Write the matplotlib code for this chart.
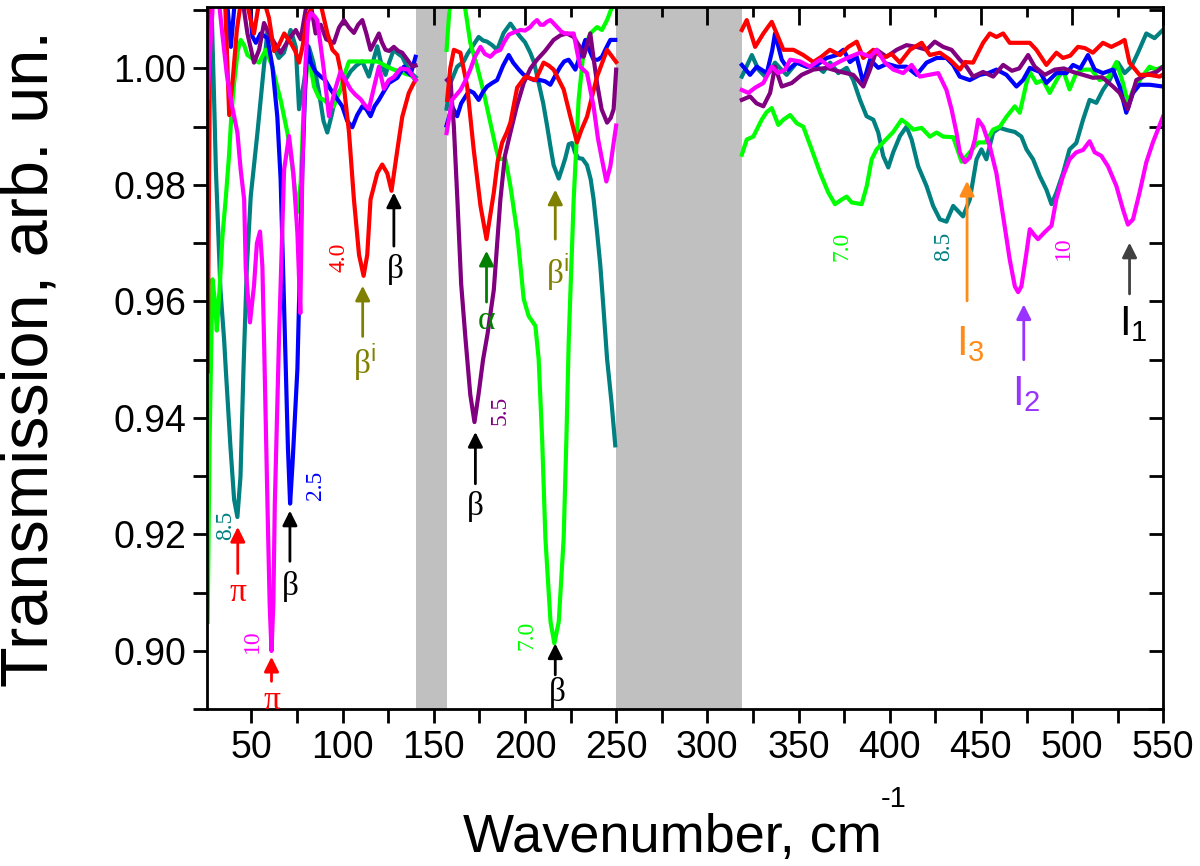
import numpy as np
import matplotlib.pyplot as plt
from matplotlib.ticker import MultipleLocator, FormatStrFormatter

plt.rcParams['mathtext.fontset'] = 'custom'
plt.rcParams['mathtext.rm'] = 'Liberation Sans'
plt.rcParams['mathtext.it'] = 'Liberation Sans:italic'
plt.rcParams['font.family'] = ['Liberation Sans', 'DejaVu Sans']

nan = np.nan

# 4.0 (red)
red_x = [26, 27.5, nan,
         35.5, 37.8, 40, 42, 44, 47, 49.6, 51.4, 54, 56.5, 59.6, 62.4, 65, 68, 71.5, 74, 76.1, 78, 80.7, 84, 88,
         91.6, 94.4, 97.1, 100.7, 103.5, 106.2, 109, 111.5, 113.5, 115.3, 119, 121.7, 124.5, 126.8, 130, 132.7,
         136.3, 139, 140, nan,
         157.3, 159, 161, 164.6, 168.3, 171.9, 175.6, 178.9, 182.9, 185, 187.5, 190, 192, 195.7, 200.2, 205.7,
         208, 210.2, 213, 215.7, 221.2, 224.9, 228.5, 231, 234, 239.5, 245, 250, nan,
         318.9, 321.6, 326.2, 330.7, 335.3, 338, 341.7, 347.2, 352.6, 358.1, 362.5, 367.2, 372.7, 377.3, 381.9,
         385.5, 391, 396.4, 401, 405.6, 411.1, 417.5, 422, 427.5, 433, 438.5, 441.2, 445.7, 451.2, 454.9, 458.5,
         462.2, 465.8, 471.3, 476.8, 480.4, 485.9, 491.4, 495, 499, 503.2, 507, 511.4, 516.9, 521.5, 526.1,
         528.8, 531.5, 537, 542.5, 548, 550]
red_y = [0.948, 1.012, nan,
         1.012, 0.992, 0.999, 1.0066, 1.011, 1.012, 1.0083, 1.006, 1.011, 1.012, 1.0087, 1.003, 1.004, 1.006,
         1.0044, 1.003, 1.001, 1.0037, 1.009, 1.011, 1.011,
         1.0061, 1.0032, 1.0023, 0.9969, 0.989, 0.9775, 0.968, 0.9644, 0.968, 0.9775, 0.982, 0.9835, 0.982,
         0.979, 0.986, 0.9917, 0.9958, 0.9975, 0.998, nan,
         0.9946, 1.000, 1.0032, 1.0027, 0.9969, 0.986, 0.9764, 0.9707, 0.9787, 0.984, 0.9873, 0.989, 0.9907,
         0.9967, 0.9986, 0.998, 0.9995, 1.001, 1.0005, 0.9998, 0.9964, 0.9917, 0.9873, 0.9895, 0.9917, 0.9986,
         1.0032, 1.0011, nan,
         1.0066, 1.0083, 1.0037, 1.006, 1.008, 1.006, 1.0032, 1.0032, 1.0023, 1.0011, 1.002, 1.0032, 1.0023,
         1.0037, 1.0046, 1.0018, 1.0032, 1.0018, 1.0025, 1.001, 1.0032, 1.0044, 1.0023, 1.0027, 1.0015, 0.9998,
         1.0011, 1.001, 1.0044, 1.006, 1.0054, 1.006, 1.0044, 1.0044, 1.0044, 1.0032, 1.0006, 1.0027, 1.0018,
         1.0022, 1.0037, 1.0035, 1.0027, 1.0044, 1.0037, 1.0044, 1.0049, 1.001, 0.9989, 0.9989, 0.9986, 0.999]

# 2.5 (blue)
blue_x = [36.5, 38.7, 41, 45, 49, 50.5, 52.4, 55, 58.8, 61.5, 64.2, 66, 68.8, 70, 71.2, 72.5, 75.2, 77.9, 79.5,
          80.7, 82.5, 85, 88, 90.5, 93.4, 96.5, 99.8, 102.5, 105.3, 108, 110.8, 113, 115.3, 117.5, 119.9, 122.5,
          125.4, 128, 130, 133.6, 135, 137.2, 140, nan,
          157, 160, 162.8, 165, 167.4, 169.5, 171.9, 174.6, 177, 179.2, 182, 184.7, 188, 191.1, 193.5, 196.6,
          199, 202, 205, 208.4, 211, 213.9, 217, 219.4, 221.5, 223.9, 225.5, 227.6, 230, 233.1, 235.5, 237.6,
          240, 242.2, 244.5, 246.8, 249.5, nan,
          318.9, 323.4, 327.1, 332.6, 335.5, 337.1, 340.8, 344.4, 349, 354.5, 360, 365.5, 370.9, 374.6, 378.2,
          381.9, 385.5, 389.2, 393.7, 398.5, 404, 409.2, 414.7, 420.2, 425.7, 431.1, 434.8, 438.4, 443.9, 449.4,
          454, 458.5, 464, 469.5, 473.1, 476.8, 482.3, 485.9, 491.4, 496.9, 500.5, 504.5, 508.7, 512.4, 516.9,
          522.4, 526.1, 529.7, 533.4, 537, 542.5, 549.8]
blue_y = [1.012, 1.0037, 1.012, 1.013, 1.011, 1.0055, 1.0044, 1.006, 1.0052, 1.0003, 0.9917, 0.981, 0.9484,
          0.935, 0.9253, 0.932, 0.9484, 0.9826, 0.997, 1.004, 1.001, 0.9995, 0.9986, 0.998, 0.9964, 0.995,
          0.9935, 0.991, 0.9899, 0.992, 0.9935, 0.993, 0.9918, 0.9935, 0.9946, 0.996, 0.9975, 0.998, 0.9984,
          1.0003, 0.9995, 0.9989, 1.002, nan,
          0.9902, 0.9935, 0.9918, 0.994, 0.9952, 0.9962, 0.9958, 0.9946, 0.996, 0.9969, 0.9975, 0.998, 1.0005,
          1.0023, 1.001, 0.9998, 0.999, 0.9984, 0.998, 0.998, 0.9978, 0.9972, 0.999, 1.0003, 1.0012, 1.0015,
          1.0008, 0.9998, 1.002, 1.0049, 1.003, 1.0015, 1.0015, 1.002, 1.0035, 1.0049, 1.0049, nan,
          1.0006, 0.9989, 1.0003, 0.9992, 1.003, 1.006, 1.0015, 0.9998, 1.001, 1.0003, 1.0006, 1.0018, 1.0023,
          1.0032, 1.0011, 1.002, 0.9975, 1.0015, 1.0001, 1.0008, 1.0003, 1.0003, 0.9989, 1.001, 1.0018, 1.0018,
          1.0006, 0.9986, 0.998, 0.9989, 0.9992, 0.9998, 0.9989, 0.9969, 0.998, 1.0001, 0.9994, 0.9975, 0.9992,
          0.9992, 1.0006, 1.0, 1.0023, 0.9998, 0.9992, 0.9998, 0.9969, 0.9924, 0.9958, 0.9972, 0.9972, 0.9969]

# 5.5 (purple)
purple_x = [26, 27.5, nan,
            45, 47.8, 51.4, 54.2, 56.9, 60.6, 66, 70.6, 74.3, 77, 79.7, 82, 85.2, 88, 91, 95.2, 98, 100.7, 103.5,
            106.2, 108.5, 110.8, 113, 115.3, 117.5, 119.9, 121.5, 123.5, 125.5, 128.1, 130.5, 132.7, 135.5, 138.2,
            140, nan,
            157.3, 159, 161, 163, 165, 167.4, 170, 172.3, 174.5, 177, 179.5, 182.9, 186.5, 189, 192, 195.5, 199.3,
            203, 206.6, 211, 215.7, 219.5, 223, 226.7, 229.5, 232.2, 234, 235.8, 237.5, 239.5, 242, 245, 247,
            248.6, 250, nan,
            318.9, 323.4, 327, 330.7, 334.4, 337.1, 340.8, 346.3, 351.7, 358.1, 365.4, 372, 380, 385.5, 389.2,
            392.8, 398.3, 403.8, 409.2, 414.7, 420.2, 424.7, 429.3, 433.9, 438.4, 442.1, 445.7, 451.2, 456.7,
            462.2, 467, 471, 475.9, 479.5, 485, 490.5, 495.5, 500.5, 506, 511.4, 516.5, 522.4, 526.1, 530.6,
            535.2, 540.7, 546.2, 549.8]
purple_y = [0.995, 1.012, nan,
            1.012, 1.006, 1.001, 1.0032, 1.0078, 1.0054, 1.0027, 1.005, 1.0066, 1.005, 1.010, 1.012, 1.006,
            1.0075, 1.005, 1.0044, 1.007, 1.0083, 1.007, 1.0061, 1.0075, 1.0083, 1.006, 1.0032, 1.0045, 1.006,
            1.0045, 1.0032, 1.003, 1.0037, 1.003, 1.0027, 1.0015, 1.0003, 1.0005, nan,
            0.998, 0.9985, 0.990, 0.977, 0.963, 0.9535, 0.944, 0.9393, 0.944, 0.950, 0.9545, 0.962, 0.9775, 0.985,
            0.989, 0.9935, 0.9975, 1.000, 1.0015, 1.003, 1.0049, 1.0057, 1.006, 1.0054, 1.004, 1.002, 1.004,
            1.006, 1.002, 0.9975, 0.993, 0.9907, 0.9915, 0.993, 0.9998, nan,
            0.9946, 0.9952, 0.994, 0.9935, 0.9958, 1.0003, 0.9969, 0.9975, 0.9989, 0.9998, 1.0001, 0.9995, 0.9989,
            0.9969, 0.9998, 1.0032, 1.002, 1.0032, 1.004, 1.0037, 1.0032, 1.0046, 1.0037, 1.0032, 1.0015, 1.0003,
            0.9986, 0.9994, 0.9986, 1.0006, 0.9996, 1.0, 1.0023, 1.0003, 0.9989, 0.9998, 1.0, 0.9994, 0.9989,
            0.9984, 0.9985, 0.9969, 0.9958, 0.993, 0.998, 0.9989, 0.9994, 1.0003]

# 7.0 (green)
green_x = [26, 27, 28.6, 30, 31, 32.5, 34.1, 36, 37.7, 39, 40.5, 42.5, 44.1, 46, 47.8, 51.4, 54.2, 57.8, 61.5,
           64, 66, 69.7, 72.5, 75.2, 77, 78.8, 80.5, 82.5, 84.3, 87, 89.8, 92.5, 95.2, 97, 98.9, 101, 103.5, 108,
           113.5, 119, 124.5, 128, 131.8, 135, 137.2, 140, nan,
           157, 159, 163, 166.4, 170, 173.8, 177.4, 181, 183.8, 185.6, 187.5, 189.3, 192, 195.7, 199.3, 202,
           205.7, 207.5, 209.4, 211.2, 214, 216.1, 218.5, 221.2, 222.7, 224, 226.7, 229.4, 232.2, 235.8, 239.5,
           242.2, 245, 247.7, 249.5, nan,
           318.9, 321.6, 325.2, 329.8, 332.5, 335.3, 338.9, 341.7, 345.4, 349, 352.6, 357.2, 361.8, 366.3, 370,
           373.7, 376.4, 379.1, 384.6, 387.4, 390.1, 392.8, 396.4, 401.9, 406.5, 409.5, 412.9, 417.5, 422, 425.7,
           429.3, 434.8, 439.4, 443.9, 448.5, 452.5, 456.7, 460.4, 464, 468.6, 471.3, 475, 476.8, 480.4, 484,
           487.7, 491.5, 495, 498.6, 502.3, 506, 510.5, 515.1, 520, 524.3, 527.9, 530.6, 533.4, 538, 542.5, 546,
           549.8]
green_y = [0.905, 0.935, 0.9638, 0.960, 0.955, 0.962, 0.9712, 0.978, 0.985, 0.992, 0.9975, 1.003, 1.0049, 1.004,
           1.0023, 1.0015, 1.001, 1.0032, 1.0003, 0.997, 0.9946, 0.989, 0.983, 0.9753, 0.9804, 0.9946, 1.000,
           1.0003, 0.9969, 0.995, 0.9946, 0.9938, 0.9935, 0.995, 0.9964, 0.999, 1.0012, 1.0012, 1.0012, 1.0012,
           1.0003, 0.9998, 0.9995, 0.999, 0.9989, 0.998, nan,
           1.0032, 1.012, 1.013, 1.012, 1.0044, 1.0003, 0.9958, 0.9907, 0.9867, 0.9844, 0.9845, 0.9844, 0.9798,
           0.9719, 0.9604, 0.9575, 0.9558, 0.9501, 0.9364, 0.9193, 0.905, 0.9013, 0.905, 0.9193, 0.9364, 0.9535,
           0.9775, 0.9946, 1.0032, 1.006, 1.0071, 1.0066, 1.0083, 1.0105, 1.012, nan,
           0.9852, 0.9878, 0.9883, 0.9912, 0.9925, 0.9932, 0.9903, 0.9912, 0.992, 0.9906, 0.99, 0.9861, 0.9821,
           0.9787, 0.9767, 0.9775, 0.978, 0.977, 0.9767, 0.9798, 0.9844, 0.9861, 0.9873, 0.9891, 0.9912, 0.9905,
           0.9895, 0.9898, 0.9883, 0.989, 0.9883, 0.9882, 0.984, 0.9856, 0.9873, 0.9873, 0.9895, 0.99, 0.9917,
           0.9935, 0.9924, 0.9975, 0.9994, 0.9975, 0.998, 0.9958, 0.998, 0.9998, 0.9964, 0.9992, 0.9998, 0.9998,
           0.998, 0.9985, 1.0011, 0.9975, 0.9941, 0.9963, 0.9984, 1.0003, 0.9998, 1.0003]

# 8.5 (teal)
teal_x = [28, 29.5, 30.5, 33, 35, 36, 38.5, 40.5, 42.3, 44, 45.6, 47.5, 49.6, 53.3, 56.7, 58.8, 61.5, 65, 67.8,
          71.5, 74.3, 76.1, 78.8, 81.5, 84, 87, 89.5, 91.6, 94, 96, 98.9, 101.5, 104.4, 107.5, 110.8, 114.4, 116.5,
          119, 121, 123.5, 125.5, 128, 130.5, 132.7, 135, 137.2, 140, nan,
          157, 159.1, 162.8, 166.4, 168.5, 171, 174.6, 177, 179.2, 182, 184.7, 188.3, 192, 194.5, 197.5, 200,
          202.9, 205, 207.5, 210, 212.1, 214, 215.7, 218.5, 220.5, 222.1, 224, 225.8, 227.5, 229.4, 231.5, 234,
          236, 237.6, 239.5, 241.3, 243, 245, 247.5, 249.5, nan,
          318.9, 322.5, 324.4, 328, 331.7, 334.5, 337.1, 340, 343.5, 349, 354.5, 359, 363.6, 367.3, 371.8, 376.4,
          380, 383.7, 387.3, 391, 393.7, 396.4, 399.2, 401.9, 405.6, 409.2, 412, 415.6, 420.2, 423.8, 427.5,
          431.1, 434.8, 437.5, 440.2, 443.9, 447.6, 450.3, 453, 456.7, 460.3, 464.5, 468.6, 472.2, 475, 478.6,
          482.3, 485.9, 488.7, 491.4, 495, 498.6, 502.3, 506, 509.6, 513.3, 516.9, 520.6, 525.1, 528.8, 532.5,
          536.1, 540.7, 545.2, 549.8]
teal_y = [1.012, 0.995, 0.9827, 0.962, 0.9535, 0.948, 0.935, 0.926, 0.923, 0.930, 0.948, 0.966, 0.978, 0.989,
          1.000, 1.0066, 1.0044, 1.0018, 1.0027, 1.0066, 1.0037, 0.993, 0.9976, 1.0037, 1.001, 0.996, 0.991,
          0.989, 0.992, 0.995, 0.9964, 0.998, 0.9995, 1.0005, 1.0012, 0.9986, 1.001, 1.0038, 1.001, 0.9989,
          1.001, 1.0032, 1.0025, 1.002, 1.0005, 0.9993, 0.9985, nan,
          0.9931, 0.9975, 1.0003, 1.0012, 1.0025, 1.0037, 1.0054, 1.0048, 1.0046, 1.004, 1.0032, 1.0061, 1.0077,
          1.0066, 1.0054, 1.0045, 1.0027, 1.001, 0.9975, 0.994, 0.9902, 0.9865, 0.9834, 0.9811, 0.983, 0.9846,
          0.987, 0.9872, 0.9855, 0.9846, 0.9845, 0.9834, 0.981, 0.9776, 0.972, 0.9662, 0.959, 0.9502, 0.9425,
          0.9353, nan,
          0.9986, 1.001, 1.0023, 0.9998, 0.9986, 0.9995, 1.001, 1.0, 0.9989, 1.001, 1.0003, 1.0006, 0.9994, 1.001,
          0.9992, 1.0001, 0.998, 0.9946, 0.9918, 0.9912, 0.989, 0.985, 0.983, 0.9856, 0.9884, 0.99, 0.9878,
          0.9832, 0.9798, 0.9764, 0.9741, 0.9737, 0.9764, 0.9755, 0.9746, 0.9775, 0.9844, 0.9861, 0.9844, 0.989,
          0.9898, 0.9894, 0.9891, 0.9883, 0.9861, 0.9844, 0.9815, 0.9792, 0.9767, 0.9787, 0.982, 0.9861, 0.9872,
          0.9912, 0.9946, 0.9941, 0.9963, 0.998, 1.001, 0.9992, 1.0003, 1.0027, 1.006, 1.0052, 1.0066]

# 10 (magenta)
magenta_x = [26, 27.5, 29, 32, 34, 36.5, 38.7, 42.3, 44.1, 46, 46.9, 49.2, 51.4, 53, 54.7, 56, 56.9, 58.8, 60,
             61, 62, 62.8, 65.1, 67.9, 70.6, 73, 75.2, 76.8, 77.9, 79.5, 81, 82.5, 84.5, 86.1, 89.6, 92.5, 95.5,
             98.9, 101.5, 104.4, 107, 109.9, 112, 114.4, 117, 119.9, 122.6, 125.3, 128, 131.8, 136, 140, nan,
             157, 160, 164.6, 167.5, 170, 172.5, 175.6, 178, 181, 183.5, 186.5, 188.5, 191.1, 194, 197.5, 200,
             202.9, 204.7, 206.6, 208.5, 210.2, 212, 213.9, 215.5, 217.6, 220, 222.1, 224.5, 226.7, 228.5, 230.3,
             234, 237.6, 240, 242.2, 244.6, 246.8, 248.5, 250, nan,
             318.9, 322.5, 326.2, 330.7, 335.3, 338.9, 342.6, 345.4, 350.8, 356.3, 361.8, 367.3, 372.7, 378.2,
             383.7, 389.2, 392.8, 397.4, 402, 407.4, 412, 416.5, 421.5, 426.6, 431.1, 433.9, 436.6, 438.4, 441.2,
             443.9, 446.7, 448.5, 451.2, 454.9, 458.5, 462.2, 465.8, 468.6, 470.4, 472.2, 475, 476.8, 479, 481.3,
             485, 488.7, 491.4, 495, 498.6, 502.3, 506, 509.6, 512.4, 516, 519.7, 524.3, 527.9, 530.6, 533.4, 537,
             540.7, 544.3, 549.8]
magenta_y = [0.995, 1.004, 1.012, 1.012, 1.006, 0.999, 0.9946, 0.989, 0.9826, 0.9775, 0.9655, 0.9564, 0.9627,
             0.970, 0.972, 0.966, 0.9535, 0.925, 0.908, 0.900, 0.908, 0.925, 0.9535, 0.9826, 0.9884, 0.982, 0.9718,
             0.958, 0.9826, 1.0, 1.008, 1.0095, 1.009, 1.0083, 1.000, 0.9918, 0.996, 0.9995, 0.998, 0.9964, 0.9955,
             0.9947, 0.9938, 0.993, 0.9965, 1.0003, 0.9965, 0.998, 0.9985, 1.000, 0.9998, 0.998, nan,
             0.9889, 0.9946, 0.9963, 0.998, 0.9998, 1.002, 1.0037, 1.0025, 1.002, 1.0028, 1.0032, 1.0045, 1.0058,
             1.0062, 1.0066, 1.0065, 1.0071, 1.0078, 1.0083, 1.0075, 1.0075, 1.008, 1.0083, 1.0078, 1.0071, 1.0063,
             1.006, 1.006, 1.006, 1.003, 1.0003, 0.9992, 0.9935, 0.988, 0.9844, 0.9806, 0.9832, 0.987, 0.9902, nan,
             0.9963, 0.9958, 0.9967, 0.9975, 1.0003, 0.9992, 0.9998, 1.0015, 1.0012, 1.0003, 1.0015, 1.0003, 1.0012,
             1.002, 1.0027, 1.002, 1.0032, 1.001, 0.9998, 0.9992, 1.0006, 0.9986, 0.9989, 0.9992, 0.9963, 0.993,
             0.989, 0.9856, 0.9839, 0.9847, 0.9878, 0.9912, 0.99, 0.9866, 0.982, 0.9746, 0.9672, 0.9626, 0.9616,
             0.9626, 0.9684, 0.9724, 0.9715, 0.9707, 0.9719, 0.973, 0.9776, 0.9815, 0.9844, 0.9856, 0.986, 0.9875,
             0.9856, 0.985, 0.9832, 0.9798, 0.9758, 0.9732, 0.9741, 0.9787, 0.9839, 0.9873, 0.9917]

# shaded (excluded) regions
gaps = [(140, 157.5), (250, 319)]

fig = plt.figure(figsize=(12, 8.66), dpi=100)
ax = fig.add_axes([0.1723, 0.181, 0.7971, 0.8106])

for a, b in gaps:
    ax.axvspan(a, b, color='#c0c0c0', lw=0, zorder=0)

lw = 3
ax.plot(teal_x, teal_y, color='#008080', lw=lw, solid_joinstyle='round')
ax.plot(green_x, green_y, color='#00ff00', lw=lw, solid_joinstyle='round')
ax.plot(blue_x, blue_y, color='#0000ff', lw=lw, solid_joinstyle='round')
ax.plot(purple_x, purple_y, color='#800080', lw=lw, solid_joinstyle='round')
ax.plot(red_x, red_y, color='#ff0000', lw=lw, solid_joinstyle='round')
ax.plot(magenta_x, magenta_y, color='#ff00ff', lw=lw, solid_joinstyle='round')

ax.set_xlim(25.5, 550)
ax.set_ylim(0.89, 1.0105)

ax.xaxis.set_major_locator(MultipleLocator(50))
ax.xaxis.set_minor_locator(MultipleLocator(25))
ax.yaxis.set_major_locator(MultipleLocator(0.02))
ax.yaxis.set_minor_locator(MultipleLocator(0.01))
ax.yaxis.set_major_formatter(FormatStrFormatter('%.2f'))

ax.tick_params(axis='both', which='major', direction='out', length=10, width=2, labelsize=27, pad=5)
ax.tick_params(axis='both', which='minor', direction='out', length=10, width=2)
for sp in ax.spines.values():
    sp.set_linewidth(2)

top = ax.secondary_xaxis('top')
top.xaxis.set_major_locator(MultipleLocator(50))
top.xaxis.set_minor_locator(MultipleLocator(25))
top.tick_params(which='major', direction='in', length=13, width=2, labeltop=False)
top.tick_params(which='minor', direction='in', length=7, width=2)
right = ax.secondary_yaxis('right')
right.yaxis.set_major_locator(MultipleLocator(0.02))
right.yaxis.set_minor_locator(MultipleLocator(0.01))
right.tick_params(which='both', direction='in', length=10, width=2, labelright=False)

ax.set_xlabel('Wavenumber, cm', fontsize=39)
ax.xaxis.set_label_coords(0.487, -0.148)
ax.text(0.718, -0.128, '-1', transform=ax.transAxes, fontsize=21, ha='center', va='center')
ax.set_ylabel('Transmission, arb. un.', fontsize=48)
ax.yaxis.set_label_coords(-0.152, 0.5)

serif = 'Liberation Serif'


def arrow(x, y0, y1, color):
    ax.annotate('', xy=(x, y1), xytext=(x, y0),
                arrowprops=dict(arrowstyle='-|>', color=color, lw=2, mutation_scale=22,
                                shrinkA=0, shrinkB=0))


# arrows and peak labels
arrow(42.5, 0.9133, 0.9213, '#ff0000')
ax.text(42.5, 0.910, 'π', color='#ff0000', fontsize=24, family=serif, ha='center', va='center')
arrow(61, 0.8948, 0.899, '#ff0000')
ax.text(61.3, 0.8915, 'π', color='#ff0000', fontsize=24, family=serif, ha='center', va='center')
arrow(71.1, 0.9154, 0.9241, 'black')
ax.text(71.4, 0.911, 'β', color='black', fontsize=24, family=serif, ha='center', va='center')
arrow(111, 0.954, 0.9627, '#808000')
ax.text(112, 0.9495, 'β$^{\\mathrm{i}}$', color='#808000', fontsize=24, family=serif, ha='center', va='center')
arrow(128.1, 0.9695, 0.9787, 'black')
ax.text(129, 0.9655, 'β', color='black', fontsize=24, family=serif, ha='center', va='center')
arrow(178.9, 0.9599, 0.9687, '#008000')
ax.text(178.9, 0.9567, 'α', color='#008000', fontsize=24, family=serif, ha='center', va='center')
arrow(172.8, 0.9287, 0.9376, 'black')
ax.text(172.8, 0.9248, 'β', color='black', fontsize=24, family=serif, ha='center', va='center')
arrow(216.6, 0.9707, 0.9792, '#808000')
ax.text(218, 0.965, 'β$^{\\mathrm{i}}$', color='#808000', fontsize=24, family=serif, ha='center', va='center')
arrow(216.6, 0.8959, 0.9013, 'black')
ax.text(217.5, 0.8928, 'β', color='black', fontsize=24, family=serif, ha='center', va='center')

arrow(442.4, 0.9601, 0.9807, '#ff8c1a')
ax.text(444, 0.9527, 'I$_{\\mathrm{3}}$', color='#ff8c1a', fontsize=30, ha='center', va='center')
arrow(473.5, 0.950, 0.9595, '#9933ff')
ax.text(475, 0.9441, 'I$_{\\mathrm{2}}$', color='#9933ff', fontsize=30, ha='center', va='center')
arrow(531.5, 0.9613, 0.9701, '#404040')
ax.text(533.5, 0.9561, 'I$_{\\mathrm{1}}$', color='black', fontsize=30, ha='center', va='center')

# sample labels (rotated)
nums = [(35.9, 0.9216, '8.5', '#008080'), (50.5, 0.9017, '10', '#ff00ff'), (85.2, 0.9284, '2.5', '#0000ff'),
        (98, 0.9676, '4.0', '#ff0000'), (186.5, 0.9413, '5.5', '#800080'), (201, 0.9027, '7.0', '#00ff00'),
        (373.7, 0.9695, '7.0', '#00ff00'), (429.3, 0.9695, '8.5', '#008080'), (495, 0.9692, '10', '#ff00ff')]
for x, y, s, c in nums:
    ax.text(x, y, s, color=c, fontsize=17, family=serif, rotation=90, ha='center', va='center')

fig.savefig('out.png', dpi=100)
